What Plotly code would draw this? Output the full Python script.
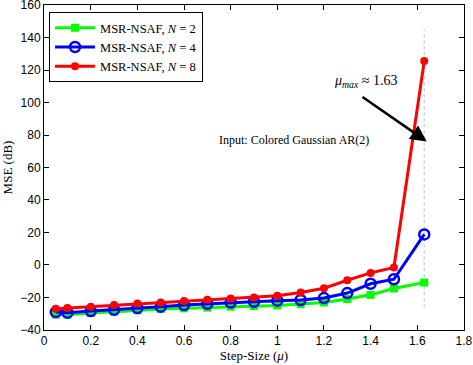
import plotly.graph_objects as go

mu = [0.05, 0.1, 0.2, 0.3, 0.4, 0.5, 0.6, 0.7, 0.8, 0.9, 1.0, 1.1, 1.2, 1.3, 1.4, 1.5, 1.63]
mse_n2 = [-30.6, -30.6, -29.6, -28.6, -28.0, -27.1, -26.7, -26.3, -25.7, -25.3, -24.9, -24.1, -23.1, -21.0, -18.4, -14.5, -10.8]
mse_n4 = [-29.0, -29.4, -28.4, -27.6, -26.5, -25.7, -24.7, -23.9, -23.1, -22.7, -22.0, -21.6, -20.4, -17.3, -11.6, -8.8, 18.8]
mse_n8 = [-26.9, -26.5, -25.7, -24.7, -23.7, -23.1, -22.2, -21.4, -20.6, -20.0, -19.0, -16.9, -14.3, -9.4, -4.9, -1.6, 125.5]
mu_max = 1.63
vline_y = [-26, 145]

x_ticks = [0, 0.2, 0.4, 0.6, 0.8, 1, 1.2, 1.4, 1.6, 1.8]
x_ticklabels = ["0", "0.2", "0.4", "0.6", "0.8", "1", "1.2", "1.4", "1.6", "1.8"]
y_ticks = [-40, -20, 0, 20, 40, 60, 80, 100, 120, 140, 160]
y_ticklabels = ["\u221240", "\u221220", "0", "20", "40", "60", "80", "100", "120", "140", "160"]

serif = "Liberation Serif, Times New Roman, serif"
sans = "Liberation Sans, Arial, sans-serif"

fig = go.Figure()
fig.add_trace(go.Scatter(x=[mu_max, mu_max], y=vline_y, mode="lines",
                         line=dict(color="#b8c8e0", width=1.2, dash="dot"),
                         showlegend=False, hoverinfo="skip"))
fig.add_trace(go.Scatter(x=mu, y=mse_n2, mode="lines+markers", name="MSR-NSAF, <i>N</i> = 2",
                         line=dict(color="#00ff00", width=3),
                         marker=dict(symbol="square", size=8, color="#00ff00")))
fig.add_trace(go.Scatter(x=mu, y=mse_n4, mode="lines+markers", name="MSR-NSAF, <i>N</i> = 4",
                         line=dict(color="#0000ff", width=3),
                         marker=dict(symbol="circle-open", size=10, color="#0000ff",
                                     line=dict(width=2.5, color="#0000ff"))))
fig.add_trace(go.Scatter(x=mu, y=mse_n8, mode="lines+markers", name="MSR-NSAF, <i>N</i> = 8",
                         line=dict(color="#ff0000", width=3),
                         marker=dict(symbol="circle", size=8, color="#ff0000")))

fig.add_annotation(x=1.641, y=76, ax=1.359, ay=104, xref="x", yref="y", axref="x", ayref="y",
                   text="", showarrow=True, arrowhead=2, arrowsize=1.3, arrowwidth=2.5,
                   arrowcolor="black")
fig.add_annotation(x=1.38, y=113, xref="x", yref="y", text="<i>μ<sub>max</sub></i> ≈ 1.63",
                   showarrow=False, font=dict(family=serif, size=14, color="black"))
fig.add_annotation(x=1.07, y=77, xref="x", yref="y", text="Input: Colored Gaussian AR(2)",
                   showarrow=False, font=dict(family=serif, size=12, color="black"))

axis_common = dict(showgrid=False, zeroline=False, showline=True, linecolor="black",
                   linewidth=1, mirror="ticks", ticks="inside", ticklen=5, tickcolor="black",
                   ticklabeloverflow="allow",
                   tickfont=dict(family=sans, size=12, color="black"))
fig.update_xaxes(range=[-0.0005, 1.8005], tickvals=x_ticks, ticktext=x_ticklabels,
                 title=dict(text="Step-Size (<i>μ</i>)", font=dict(family=serif, size=13, color="black"),
                            standoff=2), **axis_common)
fig.update_yaxes(range=[-40.05, 160.05], tickvals=y_ticks, ticktext=y_ticklabels,
                 title=dict(text="MSE (dB)", font=dict(family=serif, size=13, color="black"),
                            standoff=4), **axis_common)

fig.update_layout(width=473, height=365, margin=dict(l=44, r=9, t=5, b=35, autoexpand=False),
                  plot_bgcolor="white", paper_bgcolor="white",
                  legend=dict(x=0.012, y=0.978, xanchor="left", yanchor="top",
                              bgcolor="white", bordercolor="black", borderwidth=1,
                              font=dict(family=serif, size=12.5, color="black"),
                              tracegroupgap=0, itemwidth=40))

fig.write_html("out.html", config={"displayModeBar": False},
               post_script="document.body.style.margin='0';document.body.style.padding='0';document.body.style.overflow='hidden';")
